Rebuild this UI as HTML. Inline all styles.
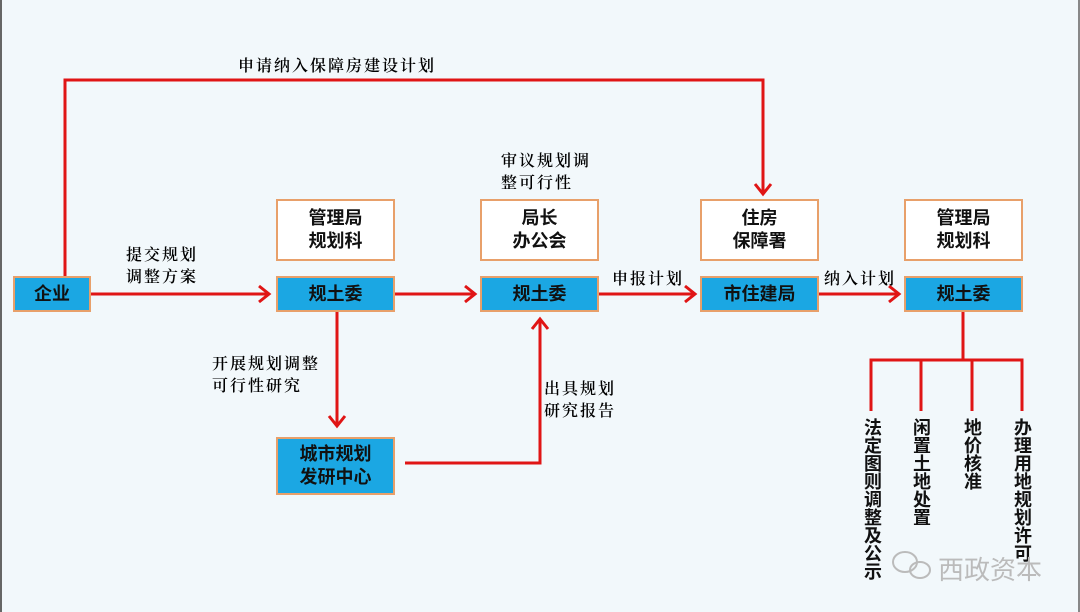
<!DOCTYPE html>
<html><head><meta charset="utf-8"><style>
body{margin:0;width:1080px;height:612px;background:#f2f8fb;position:relative;overflow:hidden;font-family:"Liberation Sans","Noto Sans CJK SC",sans-serif}
.b{position:absolute;box-sizing:border-box;border:2px solid #e8a06a;display:flex;align-items:center;justify-content:center;text-align:center;font-weight:bold;font-size:18px;line-height:23px;color:#111}
.blue{background:#1ba7e3}
.w{background:#fff}
.t{position:absolute;font-family:"Noto Serif CJK SC",serif;font-weight:600;font-size:16px;line-height:22px;color:#000;letter-spacing:2px;white-space:nowrap}
.v{position:absolute;writing-mode:vertical-rl;font-size:18px;line-height:18px;font-weight:bold;color:#111}
</style></head><body>
<div style="position:absolute;left:0;top:0;width:2px;height:612px;background:#666"></div>
<div style="position:absolute;right:0;top:0;width:2px;height:612px;background:#888"></div>
<svg width="1080" height="612" style="position:absolute;left:0;top:0">
<g stroke="#e01515" stroke-width="3" fill="none">
<polyline points="65,276 65,80 763,80 763,193"/>
<polyline points="755,184 763,194 771,184"/>
<line x1="91" y1="294" x2="268" y2="294"/><polyline points="259,286 269,294 259,302"/>
<line x1="395" y1="294" x2="474" y2="294"/><polyline points="465,286 475,294 465,302"/>
<line x1="599" y1="294" x2="694" y2="294"/><polyline points="685,286 695,294 685,302"/>
<line x1="819" y1="294" x2="898" y2="294"/><polyline points="889,286 899,294 889,302"/>
<line x1="337" y1="312" x2="337" y2="425"/><polyline points="329,416 337,426 345,416"/>
<polyline points="405,463 540,463 540,320"/><polyline points="532,329 540,319 548,329"/>
<line x1="963" y1="312" x2="963" y2="360"/>
<polyline points="871,411 871,360 1022,360 1022,411"/>
<line x1="921" y1="360" x2="921" y2="411"/>
<line x1="972" y1="360" x2="972" y2="411"/>
</g>
<g stroke="#bbb" stroke-width="2" fill="none">
<ellipse cx="905" cy="562" rx="12" ry="10"/><ellipse cx="920" cy="570" rx="10" ry="8"/>
</g></svg>
<div class="b blue" style="left:13px;top:276px;width:78px;height:36px">企业</div>
<div class="b w" style="left:276px;top:199px;width:119px;height:62px">管理局<br>规划科</div>
<div class="b blue" style="left:276px;top:276px;width:119px;height:36px">规土委</div>
<div class="b blue" style="left:276px;top:437px;width:119px;height:58px">城市规划<br>发研中心</div>
<div class="b w" style="left:480px;top:199px;width:119px;height:62px">局长<br>办公会</div>
<div class="b blue" style="left:480px;top:276px;width:119px;height:36px">规土委</div>
<div class="b w" style="left:700px;top:199px;width:119px;height:62px">住房<br>保障署</div>
<div class="b blue" style="left:700px;top:276px;width:119px;height:36px">市住建局</div>
<div class="b w" style="left:904px;top:199px;width:119px;height:62px">管理局<br>规划科</div>
<div class="b blue" style="left:904px;top:276px;width:119px;height:36px">规土委</div>
<div class="t" style="left:238px;top:54px">申请纳入保障房建设计划</div>
<div class="t" style="left:126px;top:243px">提交规划<br>调整方案</div>
<div class="t" style="left:212px;top:352px">开展规划调整<br>可行性研究</div>
<div class="t" style="left:501px;top:149px">审议规划调<br>整可行性</div>
<div class="t" style="left:612px;top:267px">申报计划</div>
<div class="t" style="left:824px;top:267px">纳入计划</div>
<div class="t" style="left:544px;top:377px">出具规划<br>研究报告</div>
<div class="v" style="left:863px;top:418px">法定图则调整及公示</div>
<div class="v" style="left:912px;top:418px">闲置土地处置</div>
<div class="v" style="left:963px;top:418px">地价核准</div>
<div class="v" style="left:1013px;top:418px">办理用地规划许可</div>
<div style="position:absolute;left:938px;top:550px;font-size:26px;color:#bbb">西政资本</div>
</body></html>
